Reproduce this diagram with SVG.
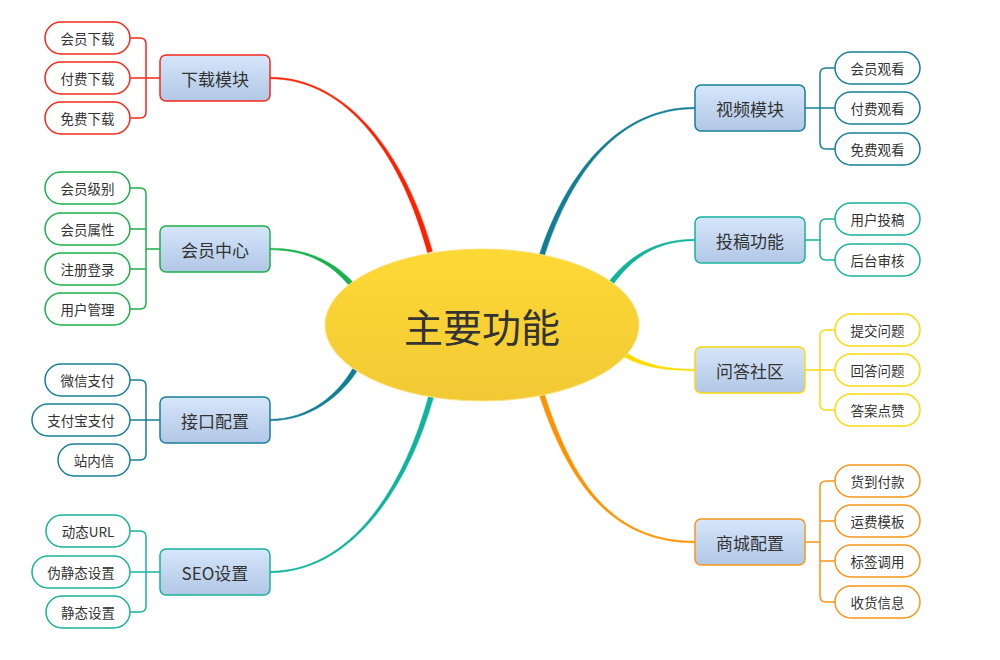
<svg xmlns="http://www.w3.org/2000/svg" width="1000" height="660" viewBox="0 0 1000 660">
<defs>
<linearGradient id="gb" x1="0" y1="0" x2="0" y2="1"><stop offset="0" stop-color="#d6e6fb"/><stop offset="1" stop-color="#b1c7e5"/></linearGradient>
<linearGradient id="gc" x1="0" y1="0" x2="0" y2="1"><stop offset="0" stop-color="#fdd935"/><stop offset="1" stop-color="#f2c935"/></linearGradient>
</defs>
<style>
text{font-family:"Noto Sans CJK SC","Microsoft YaHei",sans-serif;fill:#333;text-anchor:middle;dominant-baseline:central}
.leaf{fill:#fff;stroke-width:1.5}
.br{fill:url(#gb);stroke-width:1.5}
.lt{font-size:13.5px}
.bt{font-size:17px}
.bk{fill:none;stroke-width:1.5}
.red{stroke:#f5281a}.grn{stroke:#1bb04b}.blu{stroke:#177f97}.tea{stroke:#17b39c}.yel{stroke:#fbd90f}.org{stroke:#f9961a}
</style>
<rect width="1000" height="660" fill="#fff"/>
<g id="connectors">
<path d="M270,77.25 C350,77.25 407,159.5 432.4,251.3 L427.6,252.7 C403,160.5 350,78.75 270,78.75 Z" fill="#ff2000" stroke="#ff2000" stroke-width="0.5"/>
<path d="M270,248.25 C310,248.25 336.5,263.7 353.9,283.4 L350.1,286.6 C333.5,266.3 310,249.75 270,249.75 Z" fill="#17b24b" stroke="#17b24b" stroke-width="0.5"/>
<path d="M270,420.75 C310,420.75 341.7,396 358.1,369.3 L353.9,366.7 C338.3,394 310,419.25 270,419.25 Z" fill="#117e96" stroke="#117e96" stroke-width="0.5"/>
<path d="M270,572.75 C350,572.75 407,490.5 433.4,397.7 L428.6,396.3 C403,489.5 350,571.25 270,571.25 Z" fill="#10b39b" stroke="#10b39b" stroke-width="0.5"/>
<path d="M695,108.75 C620,108.75 572,170.6 544.4,255.8 L539.6,254.2 C568,169.4 620,107.25 695,107.25 Z" fill="#117e96" stroke="#117e96" stroke-width="0.5"/>
<path d="M695,240.75 C655,240.75 631.6,259.2 613,284.5 L609,281.5 C628.4,256.8 655,239.25 695,239.25 Z" fill="#10b39b" stroke="#10b39b" stroke-width="0.5"/>
<path d="M695,369.25 C660,369.25 641,362.4 625.3,351.9 L622.7,356.1 C639,365.6 660,370.75 695,370.75 Z" fill="#ffdb00" stroke="#ffdb00" stroke-width="0.5"/>
<path d="M695,541.25 C610,541.25 572,479.4 544.4,394.2 L539.6,395.8 C568,480.6 610,542.75 695,542.75 Z" fill="#ff9200" stroke="#ff9200" stroke-width="0.5"/>
<path class="bk red" d="M130,38 H140 Q146,38 146,44 V112 Q146,118 140,118 H130 M130,78 H160"/>
<path class="bk grn" d="M130,188 H140 Q146,188 146,194 V303 Q146,309 140,309 H130 M130,229 H146 M130,269 H146 M146,249 H160"/>
<path class="bk blu" d="M130,380 H140 Q146,380 146,386 V454 Q146,460 140,460 H130 M130,420 H160"/>
<path class="bk tea" d="M130,531 H140 Q146,531 146,537 V606 Q146,612 140,612 H130 M130,572 H160"/>
<path class="bk blu" d="M835,68 H826 Q820,68 820,74 V143 Q820,149 826,149 H835 M805,108 H835"/>
<path class="bk tea" d="M835,219 H826 Q820,219 820,225 V254 Q820,260 826,260 H835 M805,240 H820"/>
<path class="bk yel" d="M835,330 H826 Q820,330 820,336 V404 Q820,410 826,410 H835 M805,370 H835"/>
<path class="bk org" d="M835,481 H826 Q820,481 820,487 V596 Q820,602 826,602 H835 M835,521 H820 M835,561 H820 M805,542 H820"/>
</g>
<g id="center">
<ellipse cx="482" cy="325" rx="157" ry="76" fill="url(#gc)" stroke="#fbe27a" stroke-width="1"/>
<text x="482" y="325" style="font-size:39px">主要功能</text>
</g>
<g id="b-download">
<rect class="br red" x="160" y="55" width="110" height="46" rx="6"/><text class="bt" x="215" y="78">下载模块</text>
<rect class="leaf red" x="45" y="22" width="85" height="32" rx="16"/><text class="lt" x="87.5" y="38">会员下载</text>
<rect class="leaf red" x="45" y="62" width="85" height="32" rx="16"/><text class="lt" x="87.5" y="78">付费下载</text>
<rect class="leaf red" x="45" y="102" width="85" height="32" rx="16"/><text class="lt" x="87.5" y="118">免费下载</text>
</g>
<g id="b-member">
<rect class="br grn" x="160" y="226" width="110" height="46" rx="6"/><text class="bt" x="215" y="249">会员中心</text>
<rect class="leaf grn" x="45" y="172" width="85" height="32" rx="16"/><text class="lt" x="87.5" y="188">会员级别</text>
<rect class="leaf grn" x="45" y="213" width="85" height="32" rx="16"/><text class="lt" x="87.5" y="229">会员属性</text>
<rect class="leaf grn" x="45" y="253" width="85" height="32" rx="16"/><text class="lt" x="87.5" y="269">注册登录</text>
<rect class="leaf grn" x="45" y="293" width="85" height="32" rx="16"/><text class="lt" x="87.5" y="309">用户管理</text>
</g>
<g id="b-api">
<rect class="br blu" x="160" y="397" width="110" height="46" rx="6"/><text class="bt" x="215" y="420">接口配置</text>
<rect class="leaf blu" x="45" y="364" width="85" height="32" rx="16"/><text class="lt" x="87.5" y="380">微信支付</text>
<rect class="leaf blu" x="32" y="404" width="98" height="32" rx="16"/><text class="lt" x="81" y="420">支付宝支付</text>
<rect class="leaf blu" x="58" y="444" width="72" height="32" rx="16"/><text class="lt" x="94" y="460">站内信</text>
</g>
<g id="b-seo">
<rect class="br tea" x="160" y="549" width="110" height="46" rx="6"/><text class="bt" x="215" y="572">SEO设置</text>
<rect class="leaf tea" x="46" y="515" width="84" height="32" rx="16"/><text class="lt" x="88" y="531">动态URL</text>
<rect class="leaf tea" x="32" y="556" width="98" height="32" rx="16"/><text class="lt" x="81" y="572">伪静态设置</text>
<rect class="leaf tea" x="46" y="596" width="84" height="32" rx="16"/><text class="lt" x="88" y="612">静态设置</text>
</g>
<g id="b-video">
<rect class="br blu" x="695" y="85" width="110" height="46" rx="6"/><text class="bt" x="750" y="108">视频模块</text>
<rect class="leaf blu" x="835" y="52" width="85" height="32" rx="16"/><text class="lt" x="877.5" y="68">会员观看</text>
<rect class="leaf blu" x="835" y="92" width="85" height="32" rx="16"/><text class="lt" x="877.5" y="108">付费观看</text>
<rect class="leaf blu" x="835" y="133" width="85" height="32" rx="16"/><text class="lt" x="877.5" y="149">免费观看</text>
</g>
<g id="b-submit">
<rect class="br tea" x="695" y="217" width="110" height="46" rx="6"/><text class="bt" x="750" y="240">投稿功能</text>
<rect class="leaf tea" x="835" y="203" width="85" height="32" rx="16"/><text class="lt" x="877.5" y="219">用户投稿</text>
<rect class="leaf tea" x="835" y="244" width="85" height="32" rx="16"/><text class="lt" x="877.5" y="260">后台审核</text>
</g>
<g id="b-qa">
<rect class="br yel" x="695" y="347" width="110" height="46" rx="6"/><text class="bt" x="750" y="370">问答社区</text>
<rect class="leaf yel" x="835" y="314" width="85" height="32" rx="16"/><text class="lt" x="877.5" y="330">提交问题</text>
<rect class="leaf yel" x="835" y="354" width="85" height="32" rx="16"/><text class="lt" x="877.5" y="370">回答问题</text>
<rect class="leaf yel" x="835" y="394" width="85" height="32" rx="16"/><text class="lt" x="877.5" y="410">答案点赞</text>
</g>
<g id="b-shop">
<rect class="br org" x="695" y="519" width="110" height="46" rx="6"/><text class="bt" x="750" y="542">商城配置</text>
<rect class="leaf org" x="835" y="465" width="85" height="32" rx="16"/><text class="lt" x="877.5" y="481">货到付款</text>
<rect class="leaf org" x="835" y="505" width="85" height="32" rx="16"/><text class="lt" x="877.5" y="521">运费模板</text>
<rect class="leaf org" x="835" y="545" width="85" height="32" rx="16"/><text class="lt" x="877.5" y="561">标签调用</text>
<rect class="leaf org" x="835" y="586" width="85" height="32" rx="16"/><text class="lt" x="877.5" y="602">收货信息</text>
</g>
</svg>
